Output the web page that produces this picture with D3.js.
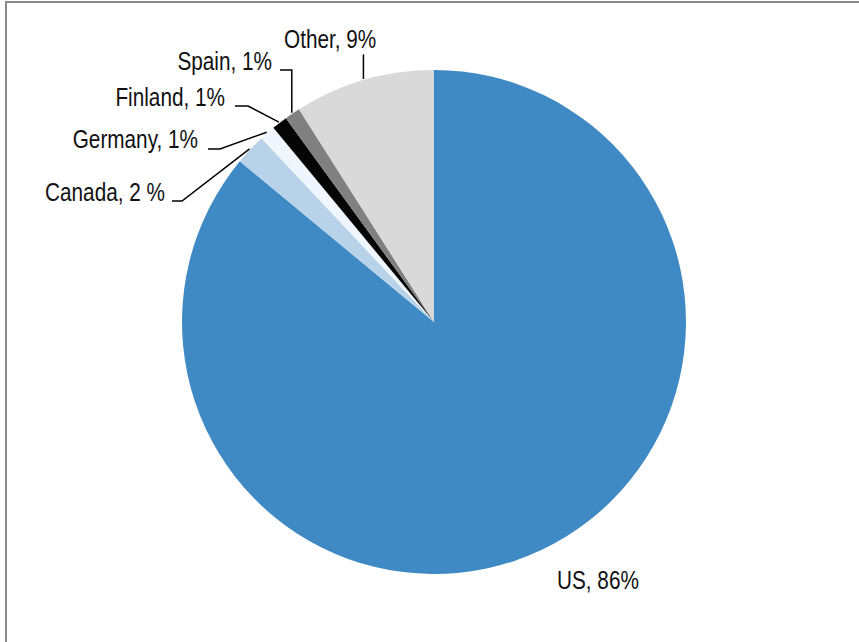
<!DOCTYPE html>
<html>
<head>
<meta charset="utf-8">
<script src="https://cdn.jsdelivr.net/npm/d3@7"></script>
<style>
  html, body { margin: 0; padding: 0; background: #fff; }
  svg { display: block; }
  .lbl { font-family: "Liberation Sans", Arial, sans-serif; font-size: 25px; fill: #111; }
</style>
</head>
<body>
<svg id="chart" width="859" height="642"></svg>
<script>
// Share of total, by country
const countries = ["US", "Canada", "Germany", "Finland", "Spain", "Other"];
const shares = [86, 2, 1, 1, 1, 9];
const labelTexts = ["US, 86%", "Canada, 2 %", "Germany, 1%", "Finland, 1%", "Spain, 1%", "Other, 9%"];
const sliceColors = ["#3f8ac4", "#b8d3e9", "#eff6fe", "#050505", "#808080", "#d9d9d9"];

const W = 859, H = 642;
const cx = 434, cy = 322, radius = 252;

const svg = d3.select("#chart");

// frame
svg.append("rect")
  .attr("x", 6).attr("y", 2)
  .attr("width", W + 10).attr("height", H + 10)
  .attr("fill", "none")
  .attr("stroke", "#8a8a8a")
  .attr("stroke-width", 2);

const rows = countries.map((c, i) => ({ country: c, value: shares[i], label: labelTexts[i], color: sliceColors[i] }));

const pie = d3.pie().sort(null).value(d => d.value);
const arcs = pie(rows);
const arc = d3.arc().innerRadius(0).outerRadius(radius);

const g = svg.append("g").attr("transform", `translate(${cx},${cy})`);

g.selectAll("path.slice")
  .data(arcs)
  .join("path")
  .attr("class", "slice")
  .attr("d", arc)
  .attr("fill", d => d.data.color);

// label placement: elbow and tail of each leader, text anchor (page coords)
const labelLayout = {
  US:      { text: [557, 589], anchor: "start" },
  Canada:  { elbow: [182, 201], tail: [172, 201], text: [165, 201], anchor: "end" },
  Germany: { elbow: [220, 149], tail: [208, 149], text: [198, 148], anchor: "end" },
  Finland: { elbow: [248, 106], tail: [235, 106], text: [225, 106], anchor: "end" },
  Spain:   { elbow: null,       tail: [280, 70],  text: [272, 70],  anchor: "end", vertical: true },
  Other:   { elbow: null,       tail: [363, 55],  text: [284, 48],  anchor: "start", vertical: true }
};

const lines = svg.append("g")
  .attr("fill", "none")
  .attr("stroke", "#000")
  .attr("stroke-width", 1.5);

arcs.forEach(a => {
  const lay = labelLayout[a.data.country];
  if (!lay.tail) return;
  const mid = (a.startAngle + a.endAngle) / 2;
  const [px, py] = d3.pointRadial(mid, radius + 1);
  const ex = cx + px, ey = cy + py;
  let pts;
  if (lay.vertical) {
    // straight up from the slice, then sideways to the label
    pts = [[ex, ey], [ex, lay.tail[1]], lay.tail];
  } else {
    pts = [[ex, ey], lay.elbow, lay.tail];
  }
  lines.append("path").attr("d", d3.line()(pts));
});

const labels = svg.append("g");
arcs.forEach(a => {
  const lay = labelLayout[a.data.country];
  labels.append("g")
    .attr("transform", `translate(${lay.text[0]},${lay.text[1]}) scale(0.83,1)`)
    .append("text")
    .attr("class", "lbl")
    .attr("text-anchor", lay.anchor)
    .text(a.data.label);
});
</script>
</body>
</html>
